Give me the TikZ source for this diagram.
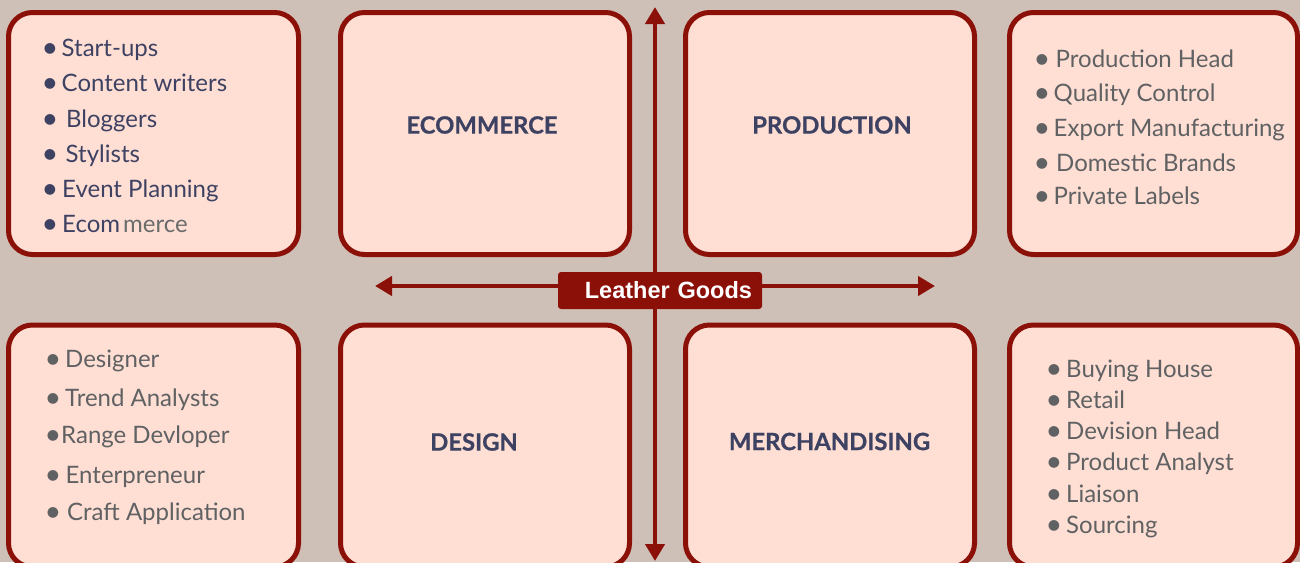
\documentclass[tikz,border=0pt]{standalone}
\usepackage{fontspec}
\usepackage{graphicx}
\setmainfont{Lato}
\newfontfamily\headfont{Lato}[BoldFeatures={FakeBold=0.7}]
\newfontfamily\labfont{Liberation Sans}
\usetikzlibrary{arrows.meta}
\definecolor{bgc}{HTML}{CFC0B7}
\definecolor{boxfill}{HTML}{FFDED4}
\definecolor{dred}{HTML}{8B1008}
\definecolor{navy}{HTML}{3E4262}
\definecolor{greyt}{HTML}{5F6163}
\definecolor{greym}{HTML}{6A6C6C}
\newcommand\bul[1]{\makebox[#1][l]{\hspace{-3.6pt}\raisebox{-1.2pt}{\scalebox{1.2}{\textbullet}}}}
\begin{document}
\begin{tikzpicture}[x=1pt,y=-1pt,
  card/.style={draw=dred, fill=boxfill, line width=5pt, rounded corners=24pt,
    minimum width=#1, minimum height=242pt, inner sep=0pt},
  head/.style={font=\headfont\bfseries\fontsize{23.8}{24}\selectfont, text=navy, inner sep=0pt},
  itm/.style={anchor=base west, inner sep=0pt, font=\fontsize{24}{24}\selectfont},
  navyitm/.style={itm, text=navy},
  greyitm/.style={itm, text=greyt},
  dblarrow/.style={{Triangle[width=19pt,length=17pt]}-{Triangle[width=19pt,length=17pt]}, line width=4.5pt, draw=dred}
]
\useasboundingbox (0,0) rectangle (1300,562);
\clip (0,0) rectangle (1300,562);
\fill[bgc] (0,0) rectangle (1300,562);

% boxes
\node[card=290pt] (tl) at (153.5,133.5) {};
\node[card=289pt] (ec) at (485,133.5) {};
\node[card=289pt] (pr) at (830,133.5) {};
\node[card=288pt] (tr) at (1153.5,133.5) {};
\node[card=290pt] (bl) at (153.5,446) {};
\node[card=289pt] (de) at (485,446) {};
\node[card=289pt] (me) at (830,446) {};
\node[card=288pt] (br) at (1153.5,446) {};

% headings
\node[head] (ect) at (482,125) {ECOMMERCE};
\node[head] (prt) at (832,125) {PRODUCTION};
\node[head] (det) at (474,442) {DESIGN};
\node[head] (met) at (829.5,441.5) {MERCHANDISING};

% top-left list
\node[navyitm] (tl1) at (45,56) {\bul{16.5pt}Start-ups};
\node[navyitm] (tl2) at (45,91) {\bul{16.5pt}Content writers};
\node[navyitm] (tl3) at (45,127) {\bul{21pt}Bloggers};
\node[navyitm] (tl4) at (45,162) {\bul{20.5pt}Stylists};
\node[navyitm] (tl5) at (45,197) {\bul{17pt}Event Planning};
\node[navyitm] (tl6) at (45,232) {\bul{17pt}Ecom\hspace{3pt}\textcolor{greym}{merce}};

% top-right list
\node[greyitm] (tr1) at (1037,67) {\bul{18.5pt}Production Head};
\node[greyitm] (tr2) at (1037,101) {\bul{16.5pt}Quality Control};
\node[greyitm] (tr3) at (1037,136) {\bul{16.5pt}Export Manufacturing};
\node[greyitm] (tr4) at (1037,171) {\bul{19pt}Domestic Brands};
\node[greyitm] (tr5) at (1037,204) {\bul{16.5pt}Private Labels};

% bottom-left list
\node[greyitm] (bl1) at (48,367) {\bul{17pt}Designer};
\node[greyitm] (bl2) at (48,406) {\bul{17pt}Trend Analysts};
\node[greyitm] (bl3) at (48,443) {\bul{13pt}Range Devloper};
\node[greyitm] (bl4) at (48,483) {\bul{17.5pt}Enterpreneur};
\node[greyitm] (bl5) at (48,520) {\bul{19pt}Craft Application};

% bottom-right list
\node[greyitm] (br1) at (1049,377) {\bul{17pt}Buying House};
\node[greyitm] (br2) at (1049,408) {\bul{17pt}Retail};
\node[greyitm] (br3) at (1049,439) {\bul{17pt}Devision Head};
\node[greyitm] (br4) at (1049,470) {\bul{17pt}Product Analyst};
\node[greyitm] (br5) at (1049,502) {\bul{17pt}Liaison};
\node[greyitm] (br6) at (1049,533) {\bul{17pt}Sourcing};

% axes
\coordinate (vt) at (655,7);
\coordinate (vb) at (655,561);
\coordinate (hl) at (375,286);
\coordinate (hr) at (935,286);
\draw[dblarrow] (vb) -- (vt);
\draw[dblarrow] (hl) -- (hr);

% central label
\node[fill=dred, rounded corners=3pt, minimum width=204pt, minimum height=37pt,
  text width=184pt, align=right, inner xsep=10pt, inner ysep=0pt,
  font=\labfont\bfseries\fontsize{23.5}{23.5}\selectfont, text=white] (lg) at (660,290.5) {Leather Goods};
\end{tikzpicture}
\end{document}
